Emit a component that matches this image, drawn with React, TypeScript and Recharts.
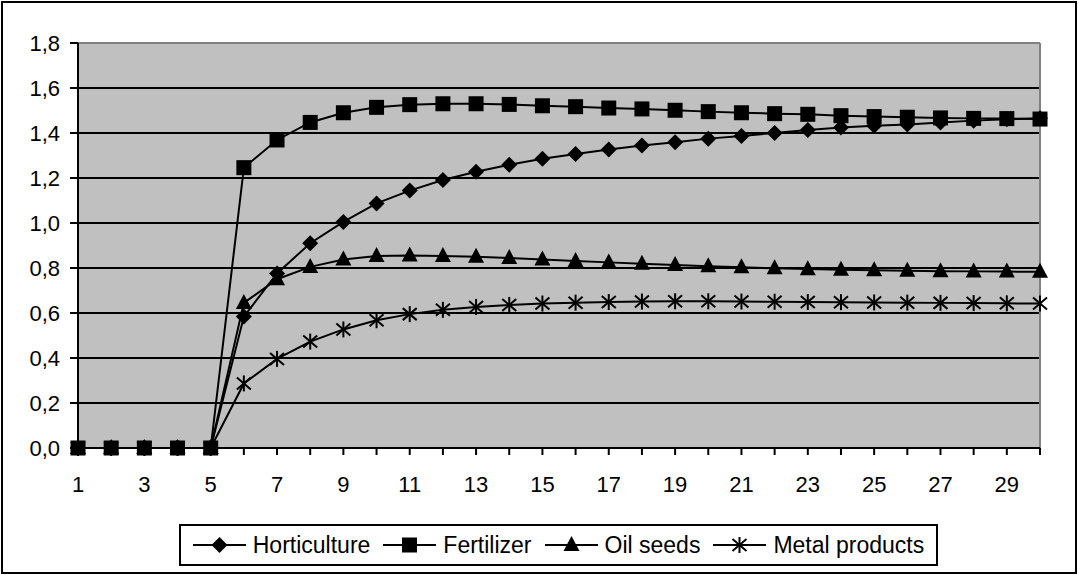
import { LineChart, Line, XAxis, YAxis, CartesianGrid, Legend, ReferenceLine } from 'recharts'

const FONT = '"Liberation Sans", Arial, sans-serif'

const categories = [1, 2, 3, 4, 5, 6, 7, 8, 9, 10, 11, 12, 13, 14, 15, 16, 17, 18, 19, 20, 21, 22, 23, 24, 25, 26, 27, 28, 29, 30]
const horticulture = [0, 0, 0, 0, 0, 0.584, 0.776, 0.91, 1.005, 1.087, 1.144, 1.191, 1.228, 1.259, 1.286, 1.307, 1.327, 1.344, 1.359, 1.375, 1.387, 1.4, 1.413, 1.424, 1.432, 1.438, 1.447, 1.455, 1.461, 1.466]
const fertilizer = [0, 0, 0, 0, 0, 1.246, 1.369, 1.447, 1.49, 1.514, 1.526, 1.53, 1.53, 1.527, 1.521, 1.517, 1.511, 1.507, 1.501, 1.495, 1.49, 1.486, 1.483, 1.477, 1.473, 1.47, 1.467, 1.465, 1.464, 1.462]
const oilSeeds = [0, 0, 0, 0, 0, 0.645, 0.75, 0.805, 0.838, 0.853, 0.856, 0.853, 0.85, 0.844, 0.838, 0.831, 0.825, 0.819, 0.813, 0.808, 0.803, 0.799, 0.795, 0.792, 0.79, 0.788, 0.786, 0.785, 0.784, 0.783]
const metalProducts = [0, 0, 0, 0, 0, 0.287, 0.396, 0.473, 0.527, 0.568, 0.595, 0.614, 0.627, 0.636, 0.642, 0.646, 0.649, 0.651, 0.652, 0.652, 0.651, 0.65, 0.649, 0.648, 0.647, 0.646, 0.645, 0.644, 0.643, 0.642]
const yTicks = [0, 0.2, 0.4, 0.6, 0.8, 1.0, 1.2, 1.4, 1.6, 1.8]

const data = categories.map((cat, i) => ({
  cat,
  horticulture: horticulture[i],
  fertilizer: fertilizer[i],
  oilSeeds: oilSeeds[i],
  metalProducts: metalProducts[i],
}))

type Marker = 'diamond' | 'square' | 'triangle' | 'star'

// marker shapes drawn around (cx, cy)
function markerShape(kind: Marker, cx: number, cy: number, key?: string) {
  if (kind === 'diamond') {
    return <path key={key} d={`M${cx},${cy - 8}L${cx + 8},${cy}L${cx},${cy + 8}L${cx - 8},${cy}Z`} fill="#000" />
  }
  if (kind === 'square') {
    return <rect key={key} x={cx - 7.5} y={cy - 7.5} width={15} height={15} fill="#000" />
  }
  if (kind === 'triangle') {
    return <path key={key} d={`M${cx},${cy - 9}L${cx + 8},${cy + 6}L${cx - 8},${cy + 6}Z`} fill="#000" />
  }
  return (
    <g key={key} stroke="#000" strokeWidth={2}>
      <line x1={cx} y1={cy - 8} x2={cx} y2={cy + 8} />
      <line x1={cx - 7} y1={cy - 6} x2={cx + 7} y2={cy + 6} />
      <line x1={cx - 7} y1={cy + 6} x2={cx + 7} y2={cy - 6} />
    </g>
  )
}

const dotFor = (kind: Marker) => (props: any) => {
  const { cx, cy, index } = props
  if (cx == null || cy == null) return <g key={`${kind}-${index}`} />
  return markerShape(kind, cx, cy, `${kind}-${index}`)
}

const legendItems: { name: string; marker: Marker }[] = [
  { name: 'Horticulture', marker: 'diamond' },
  { name: 'Fertilizer', marker: 'square' },
  { name: 'Oil seeds', marker: 'triangle' },
  { name: 'Metal products', marker: 'star' },
]

function LegendBox() {
  return (
    <div
      style={{
        width: 759,
        height: 42,
        boxSizing: 'border-box',
        border: '2px solid #000',
        background: '#fff',
        display: 'flex',
        alignItems: 'center',
        justifyContent: 'center',
        fontFamily: FONT,
        fontSize: 23,
        color: '#000',
      }}
    >
      {legendItems.map((item, i) => (
        <div key={item.name} style={{ display: 'flex', alignItems: 'center', marginLeft: i === 0 ? 0 : 13 }}>
          <svg width={53} height={20} style={{ marginRight: 7 }}>
            <line x1={0} y1={10} x2={53} y2={10} stroke="#000" strokeWidth={2} />
            {markerShape(item.marker, 26.5, 10)}
          </svg>
          <span>{item.name}</span>
        </div>
      ))}
    </div>
  )
}

export default function App() {
  return (
    <div style={{ position: 'absolute', left: 0, top: 0, width: 1078, height: 575, background: '#fff' }}>
      <LineChart width={1078} height={575} data={data} margin={{ top: 43, right: 38, bottom: 87, left: 0 }}>
        <CartesianGrid vertical={false} fill="#c0c0c0" fillOpacity={1} stroke="#000" strokeWidth={2} />
        <XAxis
          dataKey="cat"
          height={40}
          interval={0}
          tickFormatter={(v: number) => (v % 2 === 1 ? String(v) : '')}
          axisLine={{ stroke: '#000', strokeWidth: 2 }}
          tickLine={{ stroke: '#000', strokeWidth: 2 }}
          tickSize={7}
          tickMargin={21}
          tick={{ fill: '#000', fontSize: 22, fontFamily: FONT }}
        />
        <YAxis
          width={78}
          domain={[0, 1.8]}
          ticks={yTicks}
          interval={0}
          tickFormatter={(v: number) => v.toFixed(1).replace('.', ',')}
          axisLine={{ stroke: '#000', strokeWidth: 2 }}
          tickLine={{ stroke: '#000', strokeWidth: 2 }}
          tickSize={8}
          tickMargin={10}
          tick={{ fill: '#000', fontSize: 22, fontFamily: FONT }}
        />
        <ReferenceLine y={1.8} stroke="#808080" strokeWidth={2} />
        <ReferenceLine x={30} stroke="#808080" strokeWidth={2} />
        <Legend
          layout="vertical"
          align="center"
          verticalAlign="middle"
          wrapperStyle={{ left: 179, top: 524, width: 759, height: 42 }}
          content={() => <LegendBox />}
        />
        <Line dataKey="oilSeeds" name="Oil seeds" stroke="#000" strokeWidth={2} dot={dotFor('triangle')} activeDot={false} isAnimationActive={false} />
        <Line dataKey="metalProducts" name="Metal products" stroke="#000" strokeWidth={2} dot={dotFor('star')} activeDot={false} isAnimationActive={false} />
        <Line dataKey="horticulture" name="Horticulture" stroke="#000" strokeWidth={2} dot={dotFor('diamond')} activeDot={false} isAnimationActive={false} />
        <Line dataKey="fertilizer" name="Fertilizer" stroke="#000" strokeWidth={2} dot={dotFor('square')} activeDot={false} isAnimationActive={false} />
      </LineChart>
      <div
        style={{
          position: 'absolute',
          left: 1,
          top: 1,
          width: 1076,
          height: 573,
          boxSizing: 'border-box',
          border: '2px solid #000',
          pointerEvents: 'none',
        }}
      />
    </div>
  )
}
